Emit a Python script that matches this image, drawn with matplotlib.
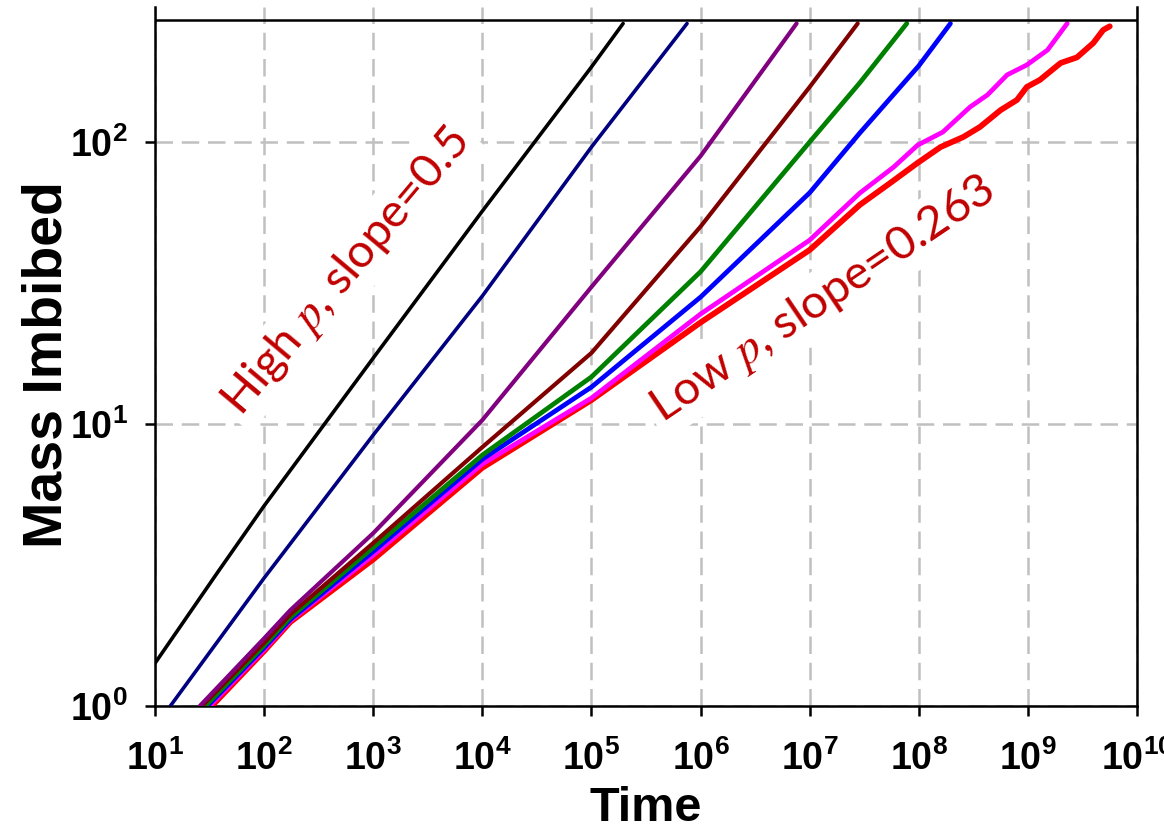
import matplotlib
matplotlib.use("Agg")
import matplotlib.pyplot as plt
import numpy as np
from matplotlib.ticker import FixedLocator, FuncFormatter, NullLocator

# values, as log10(time) and log10(mass)
black_t = [1.0, 1.57, 2.0, 3.0, 4.0, 5.0, 5.29]
black_m = [0.152, 0.472, 0.71, 1.234, 1.755, 2.266, 2.42]

navy_t = [1.14, 2.0, 3.0, 4.0, 5.0, 5.876]
navy_m = [0.0, 0.454, 0.961, 1.454, 1.982, 2.42]

purple_t = [1.41, 2.0, 2.24, 3.0, 4.0, 5.0, 6.0, 6.88]
purple_m = [0.0, 0.24, 0.34, 0.613, 1.014, 1.486, 1.95, 2.42]

brown_t = [1.43, 2.0, 2.24, 3.0, 4.0, 5.0, 6.0, 7.0, 7.44]
brown_m = [0.0, 0.225, 0.325, 0.578, 0.918, 1.252, 1.70, 2.195, 2.42]

green_t = [1.46, 2.0, 2.24, 3.0, 4.0, 5.0, 6.0, 7.0, 7.46, 7.89]
green_m = [0.0, 0.215, 0.315, 0.562, 0.89, 1.167, 1.54, 2.0, 2.21, 2.42]

blue_t = [1.48, 2.0, 2.24, 3.0, 4.0, 5.0, 6.0, 7.0, 7.46, 8.0, 8.29]
blue_m = [0.0, 0.207, 0.307, 0.548, 0.875, 1.131, 1.45, 1.82, 2.032, 2.27, 2.42]

magenta_t = [1.50, 2.0, 2.24, 3.0, 4.0, 5.0, 6.0, 7.0, 7.46, 7.77, 7.99,
             8.22, 8.47, 8.63, 8.81, 8.99, 9.18, 9.36]
magenta_m = [0.0, 0.2, 0.303, 0.535, 0.858, 1.092, 1.39, 1.652, 1.819, 1.911,
             1.989, 2.035, 2.124, 2.167, 2.238, 2.273, 2.326, 2.42]

red_t = [1.52, 2.0, 2.24, 3.0, 4.0, 5.0, 6.0, 7.0, 7.46, 7.74, 7.99, 8.2,
         8.41, 8.56, 8.75, 8.9, 8.99, 9.11, 9.3, 9.45, 9.6, 9.69, 9.75]
red_m = [0.0, 0.195, 0.298, 0.52, 0.845, 1.085, 1.36, 1.617, 1.777, 1.855,
         1.926, 1.982, 2.018, 2.053, 2.113, 2.149, 2.195, 2.22, 2.28, 2.30,
         2.351, 2.397, 2.41]

x_tick_exp = [1, 2, 3, 4, 5, 6, 7, 8, 9, 10]
y_tick_exp = [0, 1, 2]

plt.rcParams["mathtext.fontset"] = "custom"
plt.rcParams["mathtext.rm"] = "Liberation Sans:bold"
plt.rcParams["mathtext.bf"] = "Liberation Sans:bold"

fig = plt.figure(figsize=(11.64, 8.32), dpi=100)
ax = fig.add_axes([0.1332, 0.1514, 0.8436, 0.8402])

curves = [
    (red_t, red_m, "#ff0000", 4.2),
    (magenta_t, magenta_m, "#ff00ff", 3.4),
    (blue_t, blue_m, "#0000ff", 3.4),
    (green_t, green_m, "#008000", 3.4),
    (brown_t, brown_m, "#800000", 3.0),
    (purple_t, purple_m, "#800080", 3.0),
    (navy_t, navy_m, "#000080", 2.6),
    (black_t, black_m, "#000000", 2.6),
]
for t, m, col, lw in curves:
    ax.plot(10 ** np.array(t), 10 ** np.array(m), color=col, lw=lw,
            solid_capstyle="round", solid_joinstyle="round", zorder=3)

ax.set_xscale("log")
ax.set_yscale("log")
ax.set_xlim(10, 1e10)
ax.set_ylim(1, 301)
ax.axhline(271, color="black", lw=1.8, zorder=4)

ax.xaxis.set_major_locator(FixedLocator([10.0 ** e for e in x_tick_exp]))
ax.yaxis.set_major_locator(FixedLocator([10.0 ** e for e in y_tick_exp]))
ax.xaxis.set_minor_locator(NullLocator())
ax.yaxis.set_minor_locator(NullLocator())
fmt = FuncFormatter(lambda v, pos: r"$\mathrm{10^{%d}}$" % round(np.log10(v)))
ax.xaxis.set_major_formatter(fmt)
ax.yaxis.set_major_formatter(fmt)
ax.tick_params(axis="x", length=7.5, width=1.8, labelsize=27, pad=17)
ax.tick_params(axis="y", length=7.5, width=1.8, labelsize=27, pad=12)

for side in ["left", "bottom", "right"]:
    ax.spines[side].set_linewidth(1.8)
ax.spines["top"].set_visible(False)

ax.set_axisbelow(True)
ax.grid(True, color="#c0c0c0", lw=1.8, linestyle=(0, (7, 3.5)))

ax.set_xlabel("Time", fontsize=35, fontweight="bold", family="Liberation Sans")
ax.set_ylabel("Mass Imbibed", fontsize=40, fontweight="bold", family="Liberation Sans")
ax.xaxis.set_label_coords(0.5, -0.115)
ax.yaxis.set_label_coords(-0.083, 0.488)

box = dict(facecolor="white", edgecolor="none", pad=4)
ax.text(10 ** 2.76, 10 ** 1.539, r"High $p$, slope=0.5", rotation=50,
        ha="center", va="center", color="#c00000", fontsize=34, family="Lato",
        math_fontfamily="stix", bbox=box, zorder=2)
ax.text(10 ** 7.12, 10 ** 1.44, r"Low $p$, slope=0.263", rotation=34,
        ha="center", va="center", color="#c00000", fontsize=34, family="Lato",
        math_fontfamily="stix", bbox=box, zorder=2)

fig.savefig("out.png", dpi=100)
